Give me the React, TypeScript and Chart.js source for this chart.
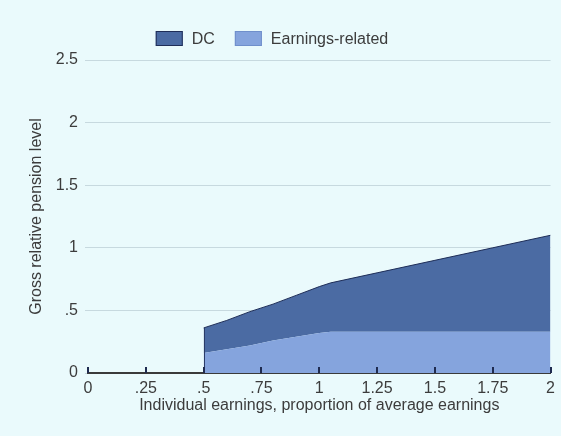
import React, { useEffect, useRef } from "react";
import { Chart, registerables } from "chart.js";

Chart.register(...registerables);

// Individual earnings (proportion of average earnings)
const earningsLevels = [0.5, 0.6, 0.7, 0.8, 0.9, 1.0, 1.05, 1.25, 1.5, 1.75, 2.0];
// Earnings-related component (bottom layer)
const earningsRelated = [0.16, 0.19, 0.22, 0.26, 0.29, 0.32, 0.33, 0.33, 0.33, 0.33, 0.33];
// DC component (stacked on top)
const dcComponent = [0.2, 0.23, 0.27, 0.29, 0.33, 0.37, 0.39, 0.47, 0.57, 0.67, 0.77];

const seriesLabels = ["Earnings-related", "DC"];
const xTitle = "Individual earnings, proportion of average earnings";
const yTitle = "Gross relative pension level";

const BG = "#eafafc";
const TEXT = "#3c3c3c";
const FONT_FAMILY = '"Liberation Sans", Arial, sans-serif';

const fmt = (v: number) => {
  const s = String(+Number(v).toFixed(2));
  return s.replace(/^0\./, ".");
};

const innerTicks = {
  id: "innerTicks",
  afterDraw(chart: any) {
    const xs = chart.scales.x;
    const ctx = chart.ctx;
    const bottom = chart.chartArea.bottom;
    ctx.save();
    // left edge of the stacked area
    const meta = chart.getDatasetMeta(1);
    const first = meta.data[0];
    if (first) {
      ctx.strokeStyle = "#2a3b68";
      ctx.lineWidth = 1;
      ctx.beginPath();
      ctx.moveTo(Math.round(first.x) + 0.5, first.y);
      ctx.lineTo(Math.round(first.x) + 0.5, bottom);
      ctx.stroke();
    }
    ctx.strokeStyle = "#1f2b50";
    ctx.lineWidth = 2;
    xs.ticks.forEach((t: any) => {
      const px = Math.round(xs.getPixelForValue(t.value));
      ctx.beginPath();
      ctx.moveTo(px, bottom);
      ctx.lineTo(px, bottom - 6);
      ctx.stroke();
    });
    ctx.restore();
  },
};

const customLegend = {
  id: "customLegend",
  afterDraw(chart: any) {
    const ctx = chart.ctx;
    const ds = [...chart.data.datasets].reverse();
    ctx.save();
    ctx.font = "16px " + FONT_FAMILY;
    const boxW = 27;
    const boxH = 15;
    const gapText = 9;
    const gapItem = 20;
    const widths = ds.map((d: any) => ctx.measureText(d.label).width);
    const total =
      widths.reduce((a: number, w: number) => a + boxW + gapText + w, 0) +
      gapItem * (ds.length - 1);
    let x = 272 - total / 2;
    const y = 31;
    ds.forEach((d: any, i: number) => {
      ctx.fillStyle = d.backgroundColor;
      ctx.fillRect(x, y, boxW, boxH);
      ctx.strokeStyle = d.legendBorder;
      ctx.lineWidth = 1;
      ctx.strokeRect(x + 0.5, y + 0.5, boxW - 1, boxH - 1);
      ctx.fillStyle = TEXT;
      ctx.textBaseline = "middle";
      ctx.textAlign = "left";
      ctx.fillText(d.label, x + boxW + gapText, y + boxH / 2 + 1);
      x += boxW + gapText + widths[i] + gapItem;
    });
    ctx.restore();
  },
};

export default function App() {
  const ref = useRef<HTMLCanvasElement | null>(null);

  useEffect(() => {
    document.body.style.margin = "0";
    document.body.style.background = BG;
    const canvas = ref.current;
    if (!canvas) return;
    const chart = new Chart(canvas, {
      type: "line",
      data: {
        datasets: [
          {
            label: seriesLabels[0],
            data: earningsLevels.map((x, i) => ({ x, y: earningsRelated[i] })),
            backgroundColor: "#85a4dd",
            borderColor: "#85a4dd",
            borderWidth: 0,
            pointRadius: 0,
            fill: "origin",
            tension: 0,
            legendBorder: "#6f8fcb",
          } as any,
          {
            label: seriesLabels[1],
            data: earningsLevels.map((x, i) => ({ x, y: dcComponent[i] })),
            backgroundColor: "#4b6ba3",
            borderColor: "#1f2e58",
            borderWidth: 1,
            pointRadius: 0,
            fill: "-1",
            tension: 0,
            legendBorder: "#1f2e58",
          } as any,
        ],
      },
      options: {
        responsive: false,
        animation: false,
        layout: { padding: { top: 60, right: 9, bottom: 0, left: 0 } },
        plugins: {
          legend: { display: false },
          tooltip: { enabled: false },
        },
        scales: {
          x: {
            type: "linear",
            min: 0,
            max: 2,
            z: 1,
            ticks: {
              stepSize: 0.25,
              color: TEXT,
              font: { size: 16, family: FONT_FAMILY },
              padding: 6,
              maxRotation: 0,
              autoSkip: false,
              callback: (v: any) => fmt(v),
            },
            grid: { display: true, drawOnChartArea: false, drawTicks: false },
            border: { display: true, color: "#3a3a3a", width: 2 },
            title: {
              display: true,
              text: xTitle,
              color: TEXT,
              font: { size: 16, family: FONT_FAMILY },
              padding: { top: 0, bottom: 21 },
            },
            afterFit: (s: any) => {
              s.height = 63;
            },
          },
          y: {
            stacked: true,
            min: 0,
            max: 2.5,
            ticks: {
              stepSize: 0.5,
              color: TEXT,
              font: { size: 16, family: FONT_FAMILY },
              padding: 7,
              callback: (v: any) => fmt(v),
            },
            grid: { color: "#c7d9df", lineWidth: 1, tickLength: 3, drawTicks: true },
            border: { display: false },
            title: {
              display: true,
              text: yTitle,
              color: TEXT,
              font: { size: 16, family: FONT_FAMILY },
              padding: { top: 27, bottom: 0 },
            },
            afterFit: (s: any) => {
              s.width = 88;
            },
          },
        },
      },
      plugins: [innerTicks, customLegend],
    });
    return () => chart.destroy();
  }, []);

  return (
    <div style={{ width: 561, height: 436, background: BG }}>
      <canvas ref={ref} width={561} height={436} style={{ display: "block" }} />
    </div>
  );
}
